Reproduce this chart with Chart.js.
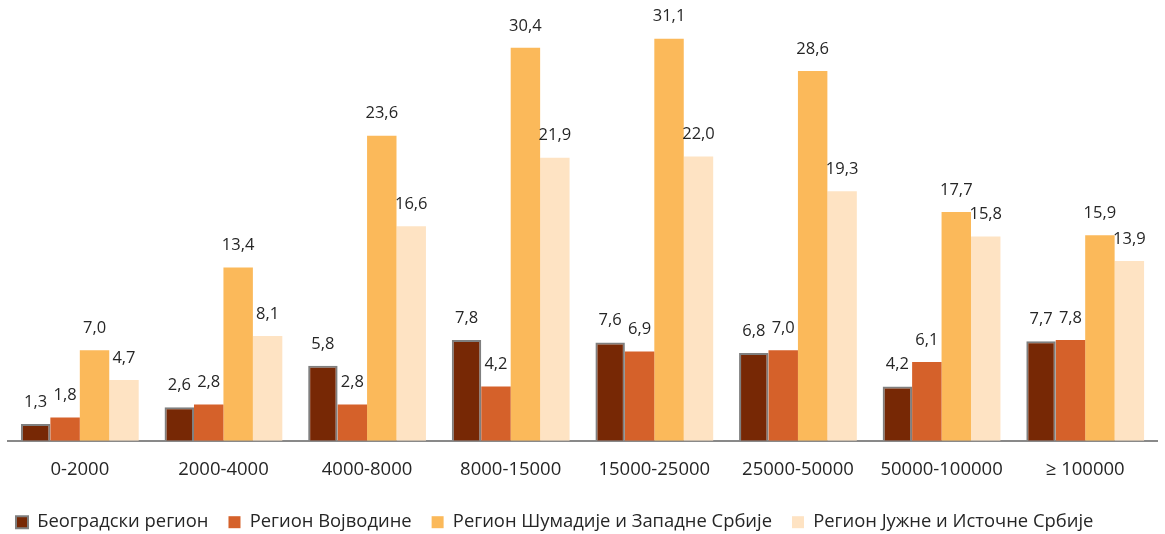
<!DOCTYPE html>
<html>
<head>
<meta charset="utf-8">
<script src="https://cdn.jsdelivr.net/npm/chart.js@4"></script>
<style>
    html, body { margin: 0; padding: 0; background: #fff; }
    #wrap { width: 1165px; height: 534px; position: relative; }
</style>
</head>
<body>
<div id="wrap"><canvas id="chart"></canvas></div>
<script>
const categories = ['0-2000', '2000-4000', '4000-8000', '8000-15000', '15000-25000', '25000-50000', '50000-100000', '\u2265 100000'];
const beograd   = [1.3, 2.6, 5.8, 7.8, 7.6, 6.8, 4.2, 7.7];
const vojvodina = [1.8, 2.8, 2.8, 4.2, 6.9, 7.0, 6.1, 7.8];
const sumadija  = [7.0, 13.4, 23.6, 30.4, 31.1, 28.6, 17.7, 15.9];
const juzna     = [4.7, 8.1, 16.6, 21.9, 22.0, 19.3, 15.8, 13.9];
const seriesNames = ['Београдски регион', 'Регион Војводине', 'Регион Шумадије и Западне Србије', 'Регион Јужне и Источне Србије'];

const FONT = '"Open Sans", "Noto Sans", sans-serif';

// value labels above each bar, comma decimals
const barLabels = {
    id: 'barLabels',
    afterDatasetsDraw(chart) {
        const ctx = chart.ctx;
        ctx.save();
        ctx.font = '16.5px ' + FONT;
        ctx.fillStyle = '#262626';
        ctx.textAlign = 'center';
        ctx.textBaseline = 'middle';
        chart.data.datasets.forEach((ds, i) => {
            chart.getDatasetMeta(i).data.forEach((el, j) => {
                const txt = ds.data[j].toFixed(1).replace('.', ',');
                ctx.fillText(txt, el.x, el.y - 22);
            });
        });
        ctx.restore();
    }
};

// legend sits lower and further left than chart.js would put it
const legendTweak = {
    id: 'legendTweak',
    beforeLayout(chart) {
        const lg = chart.legend;
        if (lg && !lg._patched) {
            const fit = lg.fit;
            lg.fit = function () { fit.call(this); this.height = 41; };
            lg._patched = true;
        }
    },
    afterLayout(chart) {
        chart.legend.left -= 12;
        chart.legend.right -= 12;
    }
};

new Chart(document.getElementById('chart'), {
    type: 'bar',
    data: {
        labels: categories,
        datasets: [
            { label: seriesNames[0], data: beograd,   backgroundColor: '#772805', borderColor: '#7f7f7f', borderWidth: 2, borderSkipped: 'bottom' },
            { label: seriesNames[1], data: vojvodina, backgroundColor: '#d5612a', borderWidth: 0 },
            { label: seriesNames[2], data: sumadija,  backgroundColor: '#fbb95a', borderWidth: 0 },
            { label: seriesNames[3], data: juzna,     backgroundColor: '#fee3c3', borderWidth: 0 },
        ],
    },
    options: {
        responsive: true,
        maintainAspectRatio: false,
        animation: false,
        layout: { padding: { left: 8, right: 8, top: 0, bottom: 0 } },
        datasets: { bar: { categoryPercentage: 0.82, barPercentage: 1 } },
        plugins: {
            tooltip: { enabled: false },
            legend: {
                position: 'bottom',
                align: 'start',
                labels: {
                    color: '#262626',
                    font: { family: FONT, size: 18.4 },
                    boxWidth: 12,
                    boxHeight: 12,
                    padding: 20,
                },
            },
        },
        scales: {
            x: {
                grid: { display: false, drawTicks: false },
                border: { display: true, color: '#898989', width: 2 },
                ticks: { color: '#262626', font: { family: FONT, size: 18.5 }, padding: 18 },
                afterFit(axis) { axis.height -= 6; },
            },
            y: {
                display: false,
                min: 0,
                max: 34.1,
            },
        },
    },
    plugins: [barLabels, legendTweak],
});
</script>
</body>
</html>
